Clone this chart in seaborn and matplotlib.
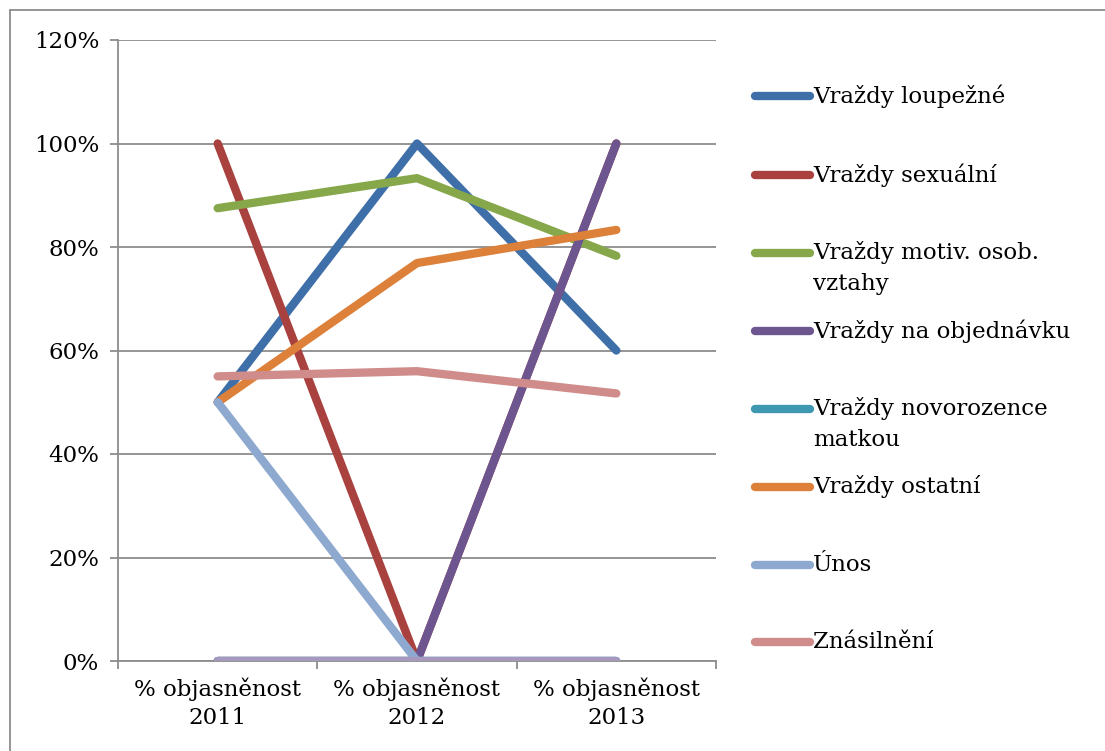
import matplotlib
matplotlib.use("Agg")
import matplotlib.pyplot as plt
import pandas as pd
import seaborn as sns
from matplotlib.lines import Line2D
from matplotlib.ticker import FixedLocator, PercentFormatter

sns.set_theme(style="white")
plt.rcParams['font.family'] = ['DejaVu Serif']

# data (% clear-up rate)
categories = ["% objasněnost\n2011", "% objasněnost\n2012", "% objasněnost\n2013"]
loupezne = [50, 100, 60]
sexualni = [100, 0, 100]
motiv_vztahy = [87.5, 93.3, 78.3]
na_objednavku = [0, 0, 100]
novorozence = [0, 0, 0]
ostatni = [50, 76.9, 83.3]
unos = [50, 0, 0]
znasilneni = [55.0, 56.0, 51.7]
hidden_series = [0, 0, 0]  # extra series at 0 not shown in the legend

series_names = [
    "Vraždy loupežné",
    "Vraždy sexuální",
    "Vraždy motiv. osob.\nvztahy",
    "Vraždy na objednávku",
    "Vraždy novorozence\nmatkou",
    "Vraždy ostatní",
    "Únos",
    "Znásilnění",
    "_hidden",
]
series_values = [loupezne, sexualni, motiv_vztahy, na_objednavku, novorozence,
                 ostatni, unos, znasilneni, hidden_series]
colors = ["#3F6FA8", "#A9413F", "#86A84A", "#6D5590", "#3E98B0",
          "#DD813A", "#8EA9CF", "#CF8C8B", "#A699BD"]

rows = []
for name, vals in zip(series_names, series_values):
    for cat, v in zip(categories, vals):
        rows.append({"kat": cat, "serie": name, "hodnota": v})
df = pd.DataFrame(rows)

W, H = 1105, 751
fig = plt.figure(figsize=(W / 100, H / 100), dpi=100)
ax = fig.add_axes([118 / W, 1 - 661 / H, (716 - 118) / W, (661 - 40) / H])

grid_c = "#8C8C8C"
lw = 6.0
sns.lineplot(
    data=df, x="kat", y="hodnota", hue="serie", hue_order=series_names,
    palette=dict(zip(series_names, colors)), sort=False, legend=False,
    linewidth=lw, solid_capstyle="round", solid_joinstyle="round",
    ax=ax, zorder=3,
)

ax.set_xlim(-0.5, 2.5)
ax.set_ylim(0, 120)
ax.set_yticks(range(0, 121, 20))
ax.yaxis.set_major_formatter(PercentFormatter(decimals=0))
ax.set_xticks(range(len(categories)))
ax.set_xticklabels(categories, linespacing=1.35)
ax.xaxis.set_minor_locator(FixedLocator([-0.5, 0.5, 1.5, 2.5]))
ax.set_xlabel("")
ax.set_ylabel("")

ax.grid(axis="y", color=grid_c, linewidth=1.3, zorder=0)
ax.grid(axis="x", visible=False)
for side in ["top", "right"]:
    ax.spines[side].set_visible(False)
for side in ["left", "bottom"]:
    ax.spines[side].set_color(grid_c)
    ax.spines[side].set_linewidth(1.3)

ax.tick_params(axis="y", which="major", length=5.5, width=1.3, color=grid_c,
               direction="out", left=True, pad=8, labelsize=16.5, labelcolor="black")
ax.tick_params(axis="x", which="major", length=0, pad=12, labelsize=16.5, labelcolor="black")
ax.tick_params(axis="x", which="minor", length=5.5, width=1.3, color=grid_c,
               direction="out", bottom=True)

# legend drawn entry by entry, like the Excel legend with wrapped labels
leg_y = [96, 175, 253, 331, 409, 487, 565, 642]
for name, col, y in zip(series_names[:8], colors[:8], leg_y):
    fig.add_artist(Line2D([755 / W, 810 / W], [1 - y / H, 1 - y / H], color=col,
                          linewidth=lw, solid_capstyle="round"))
    for j, line in enumerate(name.split("\n")):
        fig.text(813 / W, 1 - (y + 31 * j) / H, line, fontsize=16.5,
                 va="center", ha="left", color="black")

# chart area frame (only top and left edges are visible in the reference)
fig.add_artist(Line2D([10 / W, 1], [1 - 10 / H, 1 - 10 / H], color=grid_c, linewidth=1.3))
fig.add_artist(Line2D([10 / W, 10 / W], [0, 1 - 10 / H], color=grid_c, linewidth=1.3))

fig.savefig("out.png", dpi=100)
